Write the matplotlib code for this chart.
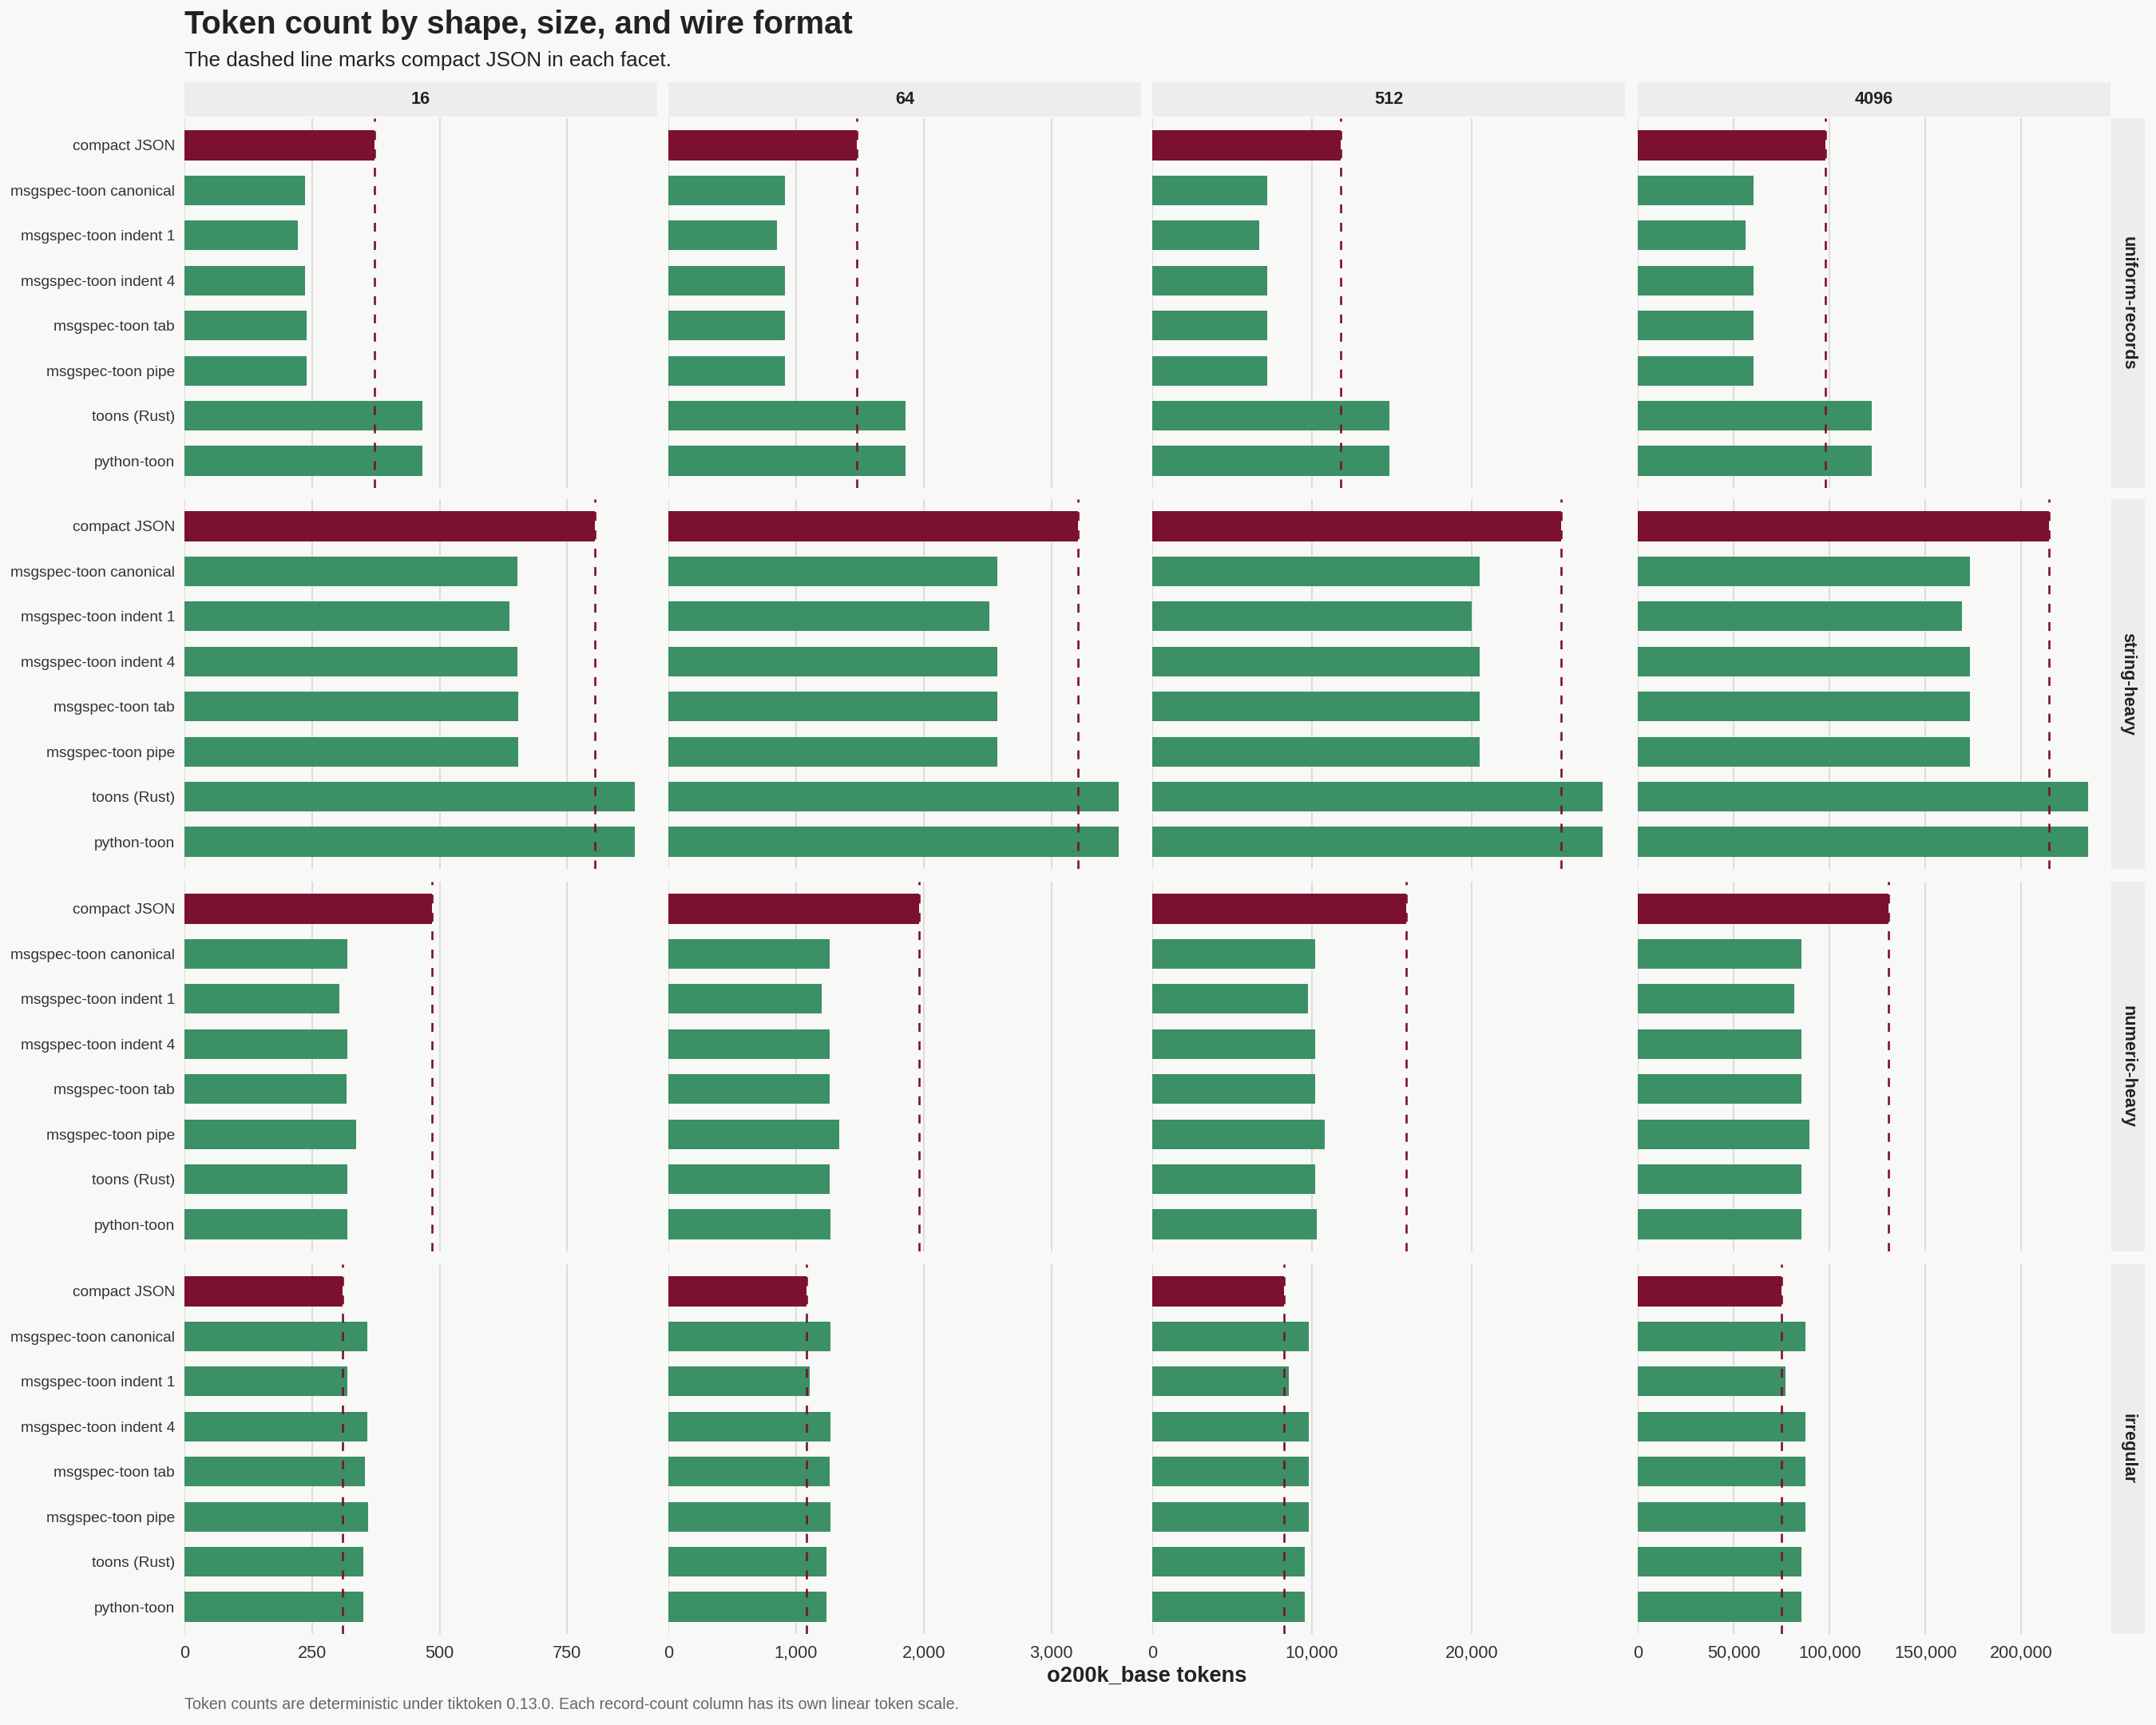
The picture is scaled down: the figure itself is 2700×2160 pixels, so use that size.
import matplotlib.pyplot as plt
from matplotlib.ticker import FuncFormatter

# formats from top to bottom inside every facet
formats = ["compact JSON", "msgspec-toon canonical", "msgspec-toon indent 1",
           "msgspec-toon indent 4", "msgspec-toon tab", "msgspec-toon pipe",
           "toons (Rust)", "python-toon"]
shapes = ["uniform-records", "string-heavy", "numeric-heavy", "irregular"]
record_counts = ["16", "64", "512", "4096"]

# one row per record count (16, 64, 512, 4096), one value per format
uniform_records = [
    [372, 237, 222, 237, 239, 239, 466, 466],
    [1477, 911, 848, 911, 911, 911, 1858, 1858],
    [11780, 7180, 6680, 7180, 7180, 7180, 14860, 14860],
    [97650, 60330, 56150, 60330, 60330, 60330, 121900, 121900],
]
string_heavy = [
    [804, 652, 636, 652, 654, 654, 882, 882],
    [3207, 2578, 2516, 2578, 2578, 2578, 3525, 3525],
    [25600, 20500, 20000, 20500, 20500, 20500, 28180, 28180],
    [214500, 173150, 168950, 173150, 173150, 173150, 234700, 234700],
]
numeric_heavy = [
    [485, 319, 303, 319, 318, 336, 319, 319],
    [1966, 1265, 1202, 1265, 1265, 1335, 1265, 1272],
    [15880, 10220, 9740, 10220, 10220, 10780, 10220, 10280],
    [130600, 85270, 81600, 85270, 85270, 89450, 85270, 85270],
]
irregular = [
    [310, 358, 319, 358, 353, 360, 350, 350],
    [1080, 1272, 1108, 1272, 1265, 1272, 1241, 1241],
    [8240, 9780, 8530, 9780, 9780, 9780, 9530, 9530],
    [74980, 87360, 77070, 87360, 87360, 87360, 85270, 85270],
]

x_ticks = [
    [0, 250, 500, 750],
    [0, 1000, 2000, 3000],
    [0, 10000, 20000],
    [0, 50000, 100000, 150000, 200000],
]

BG = "#F8F8F6"
STRIP = "#EDEDEB"
MAROON = "#7B112E"
GREEN = "#3B9065"
GRID = "#DCDCDC"
TEXT = "#222222"

plt.rcParams['font.family'] = ['Liberation Sans', 'DejaVu Sans']

W, H = 2700, 2160
fig = plt.figure(figsize=(13.5, 10.8), dpi=200, facecolor=BG)


def frac(x, y, w, h):
    return [x / W, 1 - (y + h) / H, w / W, h / H]


col_left = [231, 837, 1443, 2051]
row_top = [148, 625, 1104, 1583]
pw, ph = 592, 463

shape_values = [uniform_records, string_heavy, numeric_heavy, irregular]
col_max = [max(max(sv[c]) for sv in shape_values) for c in range(4)]
bar_colors = [MAROON if f == "compact JSON" else GREEN for f in formats]
comma = FuncFormatter(lambda v, p: f"{int(v):,}")

for r, shape in enumerate(shapes):
    for c in range(4):
        ax = fig.add_axes(frac(col_left[c], row_top[r], pw, ph))
        ax.set_facecolor(BG)
        vals = shape_values[r][c]
        ax.barh(range(len(formats)), vals, height=0.66, color=bar_colors, zorder=2)
        ax.axvline(vals[formats.index("compact JSON")], color=MAROON, lw=0.95,
                   linestyle=(0, (4.2, 4.5)), zorder=3)
        ax.set_ylim(len(formats) - 1 + 0.6, -0.6)
        ax.set_xlim(0, col_max[c] * 1.05)
        ax.set_xticks(x_ticks[c])
        ax.xaxis.set_major_formatter(comma)
        ax.grid(axis='x', color=GRID, lw=0.7, zorder=0)
        for s in ax.spines.values():
            s.set_visible(False)
        ax.tick_params(length=0, colors="#333333")
        ax.tick_params(axis='x', labelsize=7.8, pad=5)
        ax.tick_params(axis='y', labelsize=6.9, pad=4.3)
        if c == 0:
            ax.set_yticks(range(len(formats)))
            ax.set_yticklabels(formats)
        else:
            ax.set_yticks([])
        if r != len(shapes) - 1:
            ax.set_xticklabels([])

# column strips
for c, label in enumerate(record_counts):
    sax = fig.add_axes(frac(col_left[c], 103, pw, 43))
    sax.set_facecolor(STRIP)
    sax.set_xticks([])
    sax.set_yticks([])
    for s in sax.spines.values():
        s.set_visible(False)
    sax.text(0.5, 0.5, label, ha='center', va='center', fontsize=7.8,
             fontweight='bold', color=TEXT, transform=sax.transAxes)

# row strips
for r, shape in enumerate(shapes):
    sax = fig.add_axes(frac(2644, row_top[r], 42, ph))
    sax.set_facecolor(STRIP)
    sax.set_xticks([])
    sax.set_yticks([])
    for s in sax.spines.values():
        s.set_visible(False)
    sax.text(0.5, 0.5, shape, ha='center', va='center', fontsize=7.8,
             fontweight='bold', color=TEXT, rotation=-90, transform=sax.transAxes)

fig.text(231 / W, 1 - 31 / H, "Token count by shape, size, and wire format",
         ha='left', va='center', fontsize=14.4, fontweight='bold', color=TEXT)
fig.text(231 / W, 1 - 76 / H, "The dashed line marks compact JSON in each facet.",
         ha='left', va='center', fontsize=9.4, color=TEXT)
fig.text(1436.5 / W, 1 - 2099 / H, "o200k_base tokens", ha='center', va='center',
         fontsize=9.8, fontweight='bold', color=TEXT)
fig.text(231 / W, 1 - 2134 / H,
         "Token counts are deterministic under tiktoken 0.13.0. Each record-count column has its own linear token scale.",
         ha='left', va='center', fontsize=7.1, color="#666666")

fig.savefig("out.png", dpi=200, facecolor=BG)
